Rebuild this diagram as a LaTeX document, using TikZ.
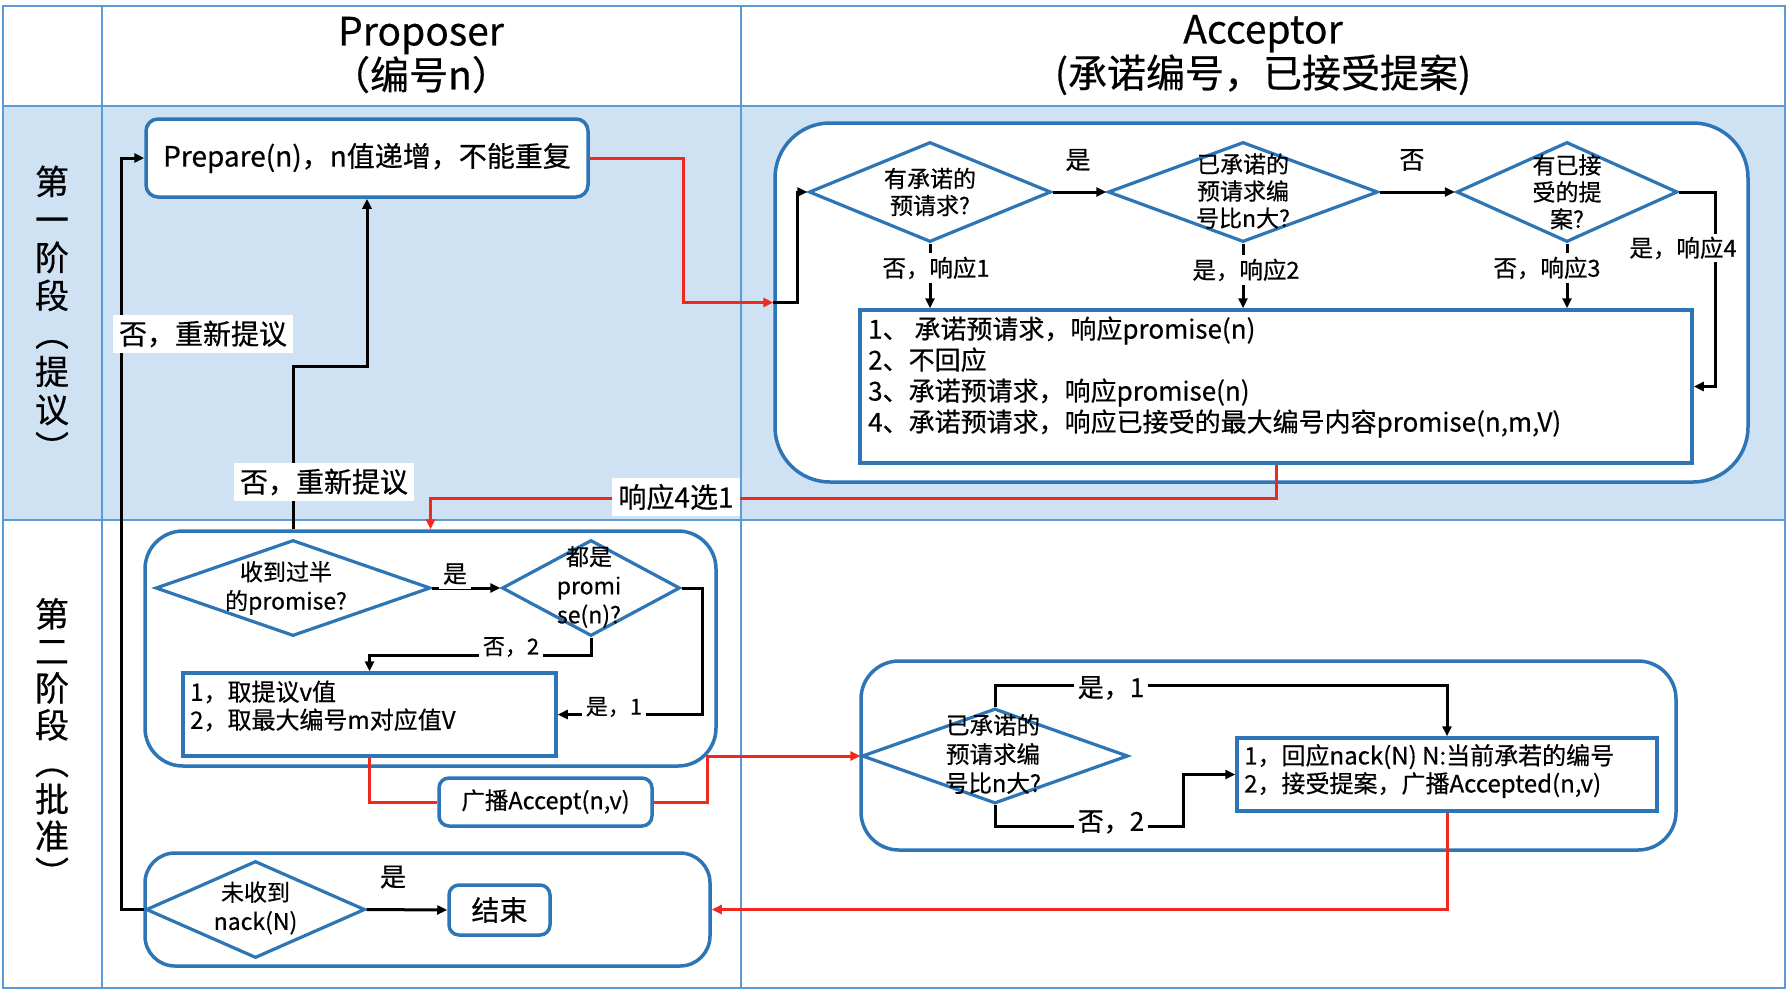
\documentclass[tikz,border=0pt]{standalone}
\usepackage{fontspec}
\setmainfont{Noto Sans CJK SC}[FakeBold=0.5]
\usetikzlibrary{shapes.geometric,arrows.meta,calc}
\definecolor{bgblue}{RGB}{207,226,243}
\definecolor{gridblue}{RGB}{91,155,213}
\definecolor{boxblue}{RGB}{46,117,182}
\definecolor{lred}{RGB}{240,40,30}
\begin{document}
\begin{tikzpicture}[x=1pt,y=-1pt,
  gridline/.style={draw=gridblue,line width=1.8pt},
  box/.style={draw=boxblue,line width=3.5pt,fill=white,rectangle,inner sep=0pt},
  rbox/.style={box,rounded corners=12pt},
  grp/.style={box,rounded corners=38pt},
  dia/.style={diamond,draw=boxblue,line width=3.2pt,fill=white,inner sep=0pt},
  dtxt/.style={align=center,inner sep=0pt,font=\fontsize{23}{27}\selectfont},
  dtxtb/.style={align=center,inner sep=0pt,font=\fontsize{23}{29}\selectfont},
  btxt/.style={align=left,inner sep=0pt,anchor=west},
  blk/.style={line width=3pt,draw=black},
  blkarr/.style={blk,-{Triangle[length=10pt,width=9pt]}},
  redl/.style={line width=3pt,draw=lred},
  redarr/.style={redl,-{Triangle[length=10pt,width=9pt]}},
  lbl/.style={fill=white,inner sep=4pt},
]
% canvas
\useasboundingbox (0,0) rectangle (1787,991);
\fill[white] (0,0) rectangle (1787,991);
\fill[bgblue] (3,106) rectangle (1785,520);
\draw[gridline] (3,6) rectangle (1785,988);
\draw[gridline] (102,6) -- (102,988);
\draw[gridline] (741,6) -- (741,988);
\draw[gridline] (3,106) -- (1785,106);
\draw[gridline] (3,520) -- (1785,520);

% headers
\node[align=center,font=\fontsize{39}{44}\selectfont] (hp) at (421,55) {Proposer\\（编号n）};
\node[align=center,font=\fontsize{39}{44}\selectfont] (ha) at (1263,55) {Acceptor\\(承诺编号，已接受提案)};
\node[align=center,font=\fontsize{34}{38}\selectfont] (ph1) at (52,313) {第\\一\\阶\\段\\︵\\提\\议\\︶};
\node[align=center,font=\fontsize{34}{37}\selectfont] (ph2) at (52,742) {第\\二\\阶\\段\\︵\\批\\准\\︶};

% ---------- phase 1 ----------
\node[rbox,minimum width=442,minimum height=78] (prep) at (367,158) {};
\node[font=\fontsize{28}{32}\selectfont] (prept) at (prep) {Prepare(n)，n值递增，不能重复};

\node[box,rounded corners=55pt,minimum width=973,minimum height=359] (accbox) at (1261.5,302.5) {};
\node[dia,minimum width=242,minimum height=100] (d1) at (930,192) {};
\node[dia,minimum width=270,minimum height=100] (d2) at (1243,192) {};
\node[dia,minimum width=221,minimum height=100] (d3) at (1567,192) {};
\node[dtxt] (d1t) at (930,192) {有承诺的\\预请求?};
\node[dtxt] (d2t) at (1243,191) {已承诺的\\预请求编\\号比n大?};
\node[dtxt] (d3t) at (1567,192) {有已接\\受的提\\案?};
\node[box,minimum width=832,minimum height=153] (list) at (1276,386.5) {};
\node[btxt,font=\fontsize{26}{31}\selectfont] (listt) at (868,377) {1、 承诺预请求，响应promise(n)\\2、不回应\\3、承诺预请求，响应promise(n)\\4、承诺预请求，响应已接受的最大编号内容promise(n,m,V)};

% ---------- phase 2 proposer ----------
\node[grp,minimum width=571,minimum height=235] (grp1) at (430.5,648.5) {};
\node[dia,minimum width=275,minimum height=96] (d5) at (293,588) {};
\node[dia,minimum width=178,minimum height=96] (d6) at (591,588) {};
\node[dtxtb] (d5t) at (286,588) {收到过半\\的promise?};
\node[dtxtb] (d6t) at (589,587) {都是\\promi\\se(n)?};
\node[box,minimum width=373,minimum height=83] (b2) at (369.5,714.5) {};
\node[btxt,font=\fontsize{24}{28}\selectfont] (b2t) at (190,706) {1，取提议v值\\2，取最大编号m对应值V};
\node[rbox,rounded corners=10pt,minimum width=213,minimum height=48] (acc) at (545.5,802) {};
\node[font=\fontsize{23.5}{28}\selectfont] (acct) at (acc) {广播Accept(n,v)};

\node[box,rounded corners=30pt,minimum width=565,minimum height=113] (grp2) at (427.5,909.5) {};
\node[dia,minimum width=219,minimum height=97] (d8) at (255.5,909.5) {};
\node[dtxtb] (d8t) at (255.5,908) {未收到\\nack(N)};
\node[rbox,rounded corners=10pt,minimum width=101,minimum height=50] (fin) at (499.5,910) {};
\node[font=\fontsize{28}{32}\selectfont] (fint) at (fin) {结束};

% ---------- phase 2 acceptor ----------
\node[grp,minimum width=815,minimum height=189] (grp3) at (1268.5,755.5) {};
\node[dia,minimum width=266,minimum height=95] (d7) at (995,756) {};
\node[dtxt,font=\fontsize{23.5}{29}\selectfont] (d7t) at (993,754) {已承诺的\\预请求编\\号比n大?};
\node[box,minimum width=420,minimum height=73] (b3) at (1447,774.5) {};
\node[btxt,font=\fontsize{24}{28}\selectfont] (b3t) at (1244,771) {1，回应nack(N) N:当前承若的编号\\2，接受提案，广播Accepted(n,v)};

% ---------- connectors ----------
\draw[redarr] (prep.east) -- ++(94,0) |- (accbox.west);
\draw[blkarr] (accbox.west) -- ++(24,0) |- (d1.west);
\draw[blkarr] (d1.east) -- (d2.west);
\draw[blkarr] (d2.east) -- (d3.west);
\draw[blkarr] (d3.east) -- ++(36,0) |- (list.east);
\draw[blkarr] (d1.south) -- (d1.south |- list.north);
\draw[blkarr] (d2.south) -- (d2.south |- list.north);
\draw[blkarr] (d3.south) -- (d3.south |- list.north);
\draw[redarr] (list.south) -- ++(0,34) -| (grp1.north);
\draw[blkarr] (d5.north |- grp1.north) -- ++(0,-163) -| (prep.south);
\draw[blkarr] (d8.west) -- ++(-23,0) |- (prep.west);

\draw[blkarr] (d5.east) -- (d6.west);
\draw[blkarr] (d6.east) -- ++(21,0) |- (b2.east);
\draw[blkarr] (d6.south) -- ++(0,18) -| (b2.north);
\draw[redl] (b2.south) |- (acc.west);
\draw[redarr] (acc.east) -- ++(54,0) |- (d7.west);
\draw[blkarr] (d8.east) -- (fin.west);

\draw[blkarr] (d7.north) -- ++(0,-21) -| (b3.north);
\draw[blkarr] (d7.south) -- ++(0,21) -- ++(188,0) |- (b3.west);
\draw[redarr] (b3.south) |- (grp2.east);

% ---------- labels ----------
\node[font=\fontsize{25}{30}\selectfont] (l1) at (1078,160) {是};
\node[font=\fontsize{25}{30}\selectfont] (l2) at (1412,160) {否};
\node[lbl,font=\fontsize{23.5}{26}\selectfont] (l3) at (936,268) {否，响应1};
\node[lbl,font=\fontsize{23.5}{26}\selectfont] (l4) at (1246,270) {是，响应2};
\node[lbl,font=\fontsize{23.5}{26}\selectfont] (l5) at (1547,268) {否，响应3};
\node[lbl,inner sep=3pt,font=\fontsize{23.5}{26}\selectfont] (l6) at (1683,248) {是，响应4};
\node[lbl,inner sep=6pt,font=\fontsize{28}{32}\selectfont] (l7) at (203,334) {否，重新提议};
\node[lbl,inner sep=6pt,font=\fontsize{28}{32}\selectfont] (l8) at (324,482) {否，重新提议};
\node[lbl,inner sep=6pt,font=\fontsize{28}{30}\selectfont] (l9) at (676,497) {响应4选1};
\node[lbl,font=\fontsize{24}{28}\selectfont] (l10) at (455,574) {是};
\node[lbl,font=\fontsize{22}{26}\selectfont] (l11) at (511,647) {否，2};
\node[lbl,font=\fontsize{22}{26}\selectfont] (l12) at (614,707) {是，1};
\node[lbl,font=\fontsize{26}{30}\selectfont] (l13) at (1111,688) {是，1};
\node[lbl,font=\fontsize{26}{30}\selectfont] (l14) at (1111,822) {否，2};
\node[font=\fontsize{26}{30}\selectfont] (l15) at (393,877) {是};
\end{tikzpicture}
\end{document}
